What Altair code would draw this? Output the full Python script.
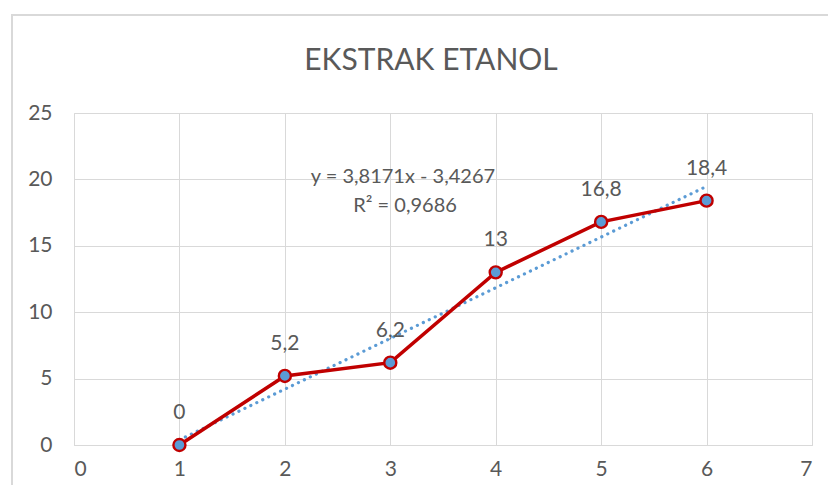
import altair as alt
import pandas as pd

# data
x_vals = [1, 2, 3, 4, 5, 6]
y_vals = [0, 5.2, 6.2, 13, 16.8, 18.4]
labels = ["0", "5,2", "6,2", "13", "16,8", "18,4"]
slope = 3.8171
intercept = -3.4267
eq_lines = ["y = 3,8171x - 3,4267", "R² = 0,9686"]
eq_x = [3.12, 3.14]
eq_y = [20.2, 18.0]
title_text = ["EKSTRAK ETANOL"]

df = pd.DataFrame({"x": x_vals, "y": y_vals, "label": labels})
trend = pd.DataFrame({"x": [x_vals[0], x_vals[-1]]})
trend["y"] = slope * trend["x"] + intercept
eq = pd.DataFrame({"x": eq_x, "y": eq_y, "t": eq_lines})

FONT = "Lato"
GRAY = "#595959"
GRID = "#d9d9d9"

xs = alt.Scale(domain=[0, 7], nice=False, zero=False)
ys = alt.Scale(domain=[0, 25], nice=False)

xaxis = alt.Axis(values=list(range(0, 8)), format="d", tickSize=0, domain=True, domainColor=GRID,
                 grid=True, gridColor=GRID, labelColor=GRAY, labelFontSize=21,
                 labelFont=FONT, labelPadding=13, title=None)
yaxis = alt.Axis(values=list(range(0, 26, 5)), format="d", tickSize=0, domain=False,
                 grid=True, gridColor=GRID, labelColor=GRAY, labelFontSize=21,
                 labelFont=FONT, labelPadding=22, title=None)

border = alt.Chart(pd.DataFrame({"a": [0]})).mark_rect(
    fill=None, stroke=GRID, strokeWidth=2, clip=False
).encode(x=alt.value(-62), x2=alt.value(800), y=alt.value(-98), y2=alt.value(420))

title = alt.Chart(pd.DataFrame({"t": title_text})).mark_text(
    font=FONT, fontSize=30, color=GRAY, baseline="middle", align="center"
).encode(x=alt.value(357), y=alt.value(-52), text="t:N")

base = alt.Chart(df)

trend_line = alt.Chart(trend).mark_line(
    color="#5B9BD5", strokeWidth=3.2, strokeDash=[0.1, 6.5], strokeCap="round"
).encode(x=alt.X("x:Q", scale=xs, axis=xaxis), y=alt.Y("y:Q", scale=ys, axis=yaxis))

line = base.mark_line(color="#C00000", strokeWidth=3.5).encode(
    x=alt.X("x:Q", scale=xs), y=alt.Y("y:Q", scale=ys))

points = base.mark_point(filled=True, fill="#5B9BD5", stroke="#C00000",
                         strokeWidth=2.4, size=145, opacity=1, shape="circle").encode(
    x="x:Q", y="y:Q")

text = base.mark_text(font=FONT, fontSize=21, color=GRAY, dy=-32).encode(
    x="x:Q", y="y:Q", text="label:N")

eq_text = alt.Chart(eq).mark_text(font=FONT, fontSize=20, color=GRAY).encode(
    x="x:Q", y="y:Q", text="t:N")

chart = alt.layer(border, title, trend_line, line, points, text, eq_text).properties(
    width=738, height=332,
    autosize=alt.AutoSizeParams(type="none"),
    padding={"left": 66, "top": 105, "right": 16, "bottom": 40},
).configure_view(stroke=None).configure(background="white")

chart.save("out.html", embed_options={"renderer": "svg", "actions": False})
